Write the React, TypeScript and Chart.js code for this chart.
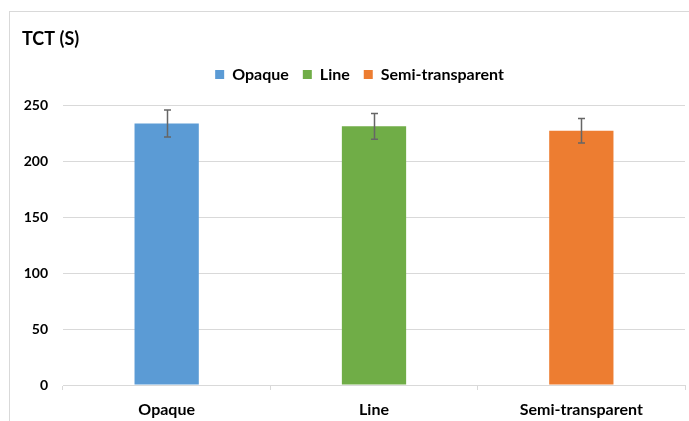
import React, { useEffect, useRef } from "react";
import { Chart, registerables } from "chart.js";

Chart.register(...registerables);

const categories = ["Opaque", "Line", "Semi-transparent"];
const tctValues = [234, 231.5, 227.5];
const tctErrors = [12, 11.5, 11];
const barColors = ["#5B9BD5", "#70AD47", "#ED7D31"];
const yTicks = [0, 50, 100, 150, 200, 250];

const FONT = "Lato";

const framePlugin = {
  id: "frame",
  beforeDraw(chart: any) {
    const ctx = chart.ctx;
    ctx.save();
    ctx.fillStyle = "#ffffff";
    ctx.fillRect(0, 0, chart.width, chart.height);
    ctx.strokeStyle = "#D9D9D9";
    ctx.lineWidth = 1;
    ctx.strokeRect(9.5, 11.5, 2000, 2000);
    ctx.restore();
  },
};

const legendSpacer = {
  id: "legendSpacer",
  beforeInit(chart: any) {
    const legend = chart.legend;
    if (!legend) return;
    const orig = legend.fit.bind(legend);
    legend.fit = function () {
      orig();
      this.height += 13;
    };
  },
  afterLayout(chart: any) {
    const legend = chart.legend;
    if (!legend) return;
    legend.left += 6;
    legend.right += 6;
  },
};

const errorBarPlugin = {
  id: "errorBars",
  afterDatasetsDraw(chart: any) {
    const ctx = chart.ctx;
    const meta = chart.getDatasetMeta(0);
    const yScale = chart.scales.y;
    ctx.save();
    ctx.strokeStyle = "#666666";
    ctx.lineWidth = 1.5;
    meta.data.forEach((bar: any, i: number) => {
      const x = Math.round(bar.x) + 0.5;
      const top = yScale.getPixelForValue(tctValues[i] + tctErrors[i]);
      const bot = yScale.getPixelForValue(tctValues[i] - tctErrors[i]);
      ctx.beginPath();
      ctx.moveTo(x, top);
      ctx.lineTo(x, bot);
      ctx.moveTo(x - 3.5, top);
      ctx.lineTo(x + 3.5, top);
      ctx.moveTo(x - 3.5, bot);
      ctx.lineTo(x + 3.5, bot);
      ctx.stroke();
    });
    ctx.restore();
  },
};

export default function App() {
  const ref = useRef<HTMLCanvasElement>(null);
  useEffect(() => {
    document.body.style.margin = "0";
    const chart = new Chart(ref.current as HTMLCanvasElement, {
      type: "bar",
      data: {
        labels: categories,
        datasets: [
          {
            label: "TCT (S)",
            data: tctValues,
            backgroundColor: barColors,
            borderWidth: 0,
            categoryPercentage: 1,
            barPercentage: 0.31,
          },
        ],
      },
      options: {
        animation: false,
        responsive: false,
        layout: { padding: { left: 22, right: 4, top: 28, bottom: 0 } },
        plugins: {
          title: {
            display: true,
            text: "TCT (S)",
            align: "start",
            color: "#000000",
            font: { family: FONT, size: 18, weight: "bold" },
            padding: { top: 0, bottom: 3 },
          },
          legend: {
            display: true,
            labels: {
              boxWidth: 9,
              boxHeight: 9,
              padding: 14,
              color: "#000000",
              font: { family: FONT, size: 16, weight: "bold" },
              generateLabels: () =>
                categories.map((c, i) => ({
                  text: c,
                  fillStyle: barColors[i],
                  strokeStyle: barColors[i],
                  lineWidth: 0,
                  hidden: false,
                  index: i,
                  datasetIndex: 0,
                })),
            },
          },
          tooltip: { enabled: false },
        },
        scales: {
          x: {
            afterFit: (s: any) => {
              s.height = 36;
            },
            grid: {
              display: true,
              offset: true,
              drawOnChartArea: false,
              drawTicks: true,
              tickLength: 5,
              color: "#D9D9D9",
            },
            border: { display: true, color: "#D9D9D9" },
            ticks: {
              color: "#000000",
              padding: 10,
              font: { family: FONT, size: 16, weight: "bold" },
            },
          },
          y: {
            min: 0,
            max: 250,
            afterFit: (s: any) => {
              s.width = 41;
            },
            afterBuildTicks: (scale: any) => {
              scale.ticks = yTicks.map((v) => ({ value: v }));
            },
            grid: { color: "#D9D9D9", drawTicks: false, lineWidth: 1 },
            border: { display: false },
            ticks: {
              color: "#000000",
              padding: 15,
              font: { family: FONT, size: 14, weight: "bold" },
            },
          },
        },
      },
      plugins: [framePlugin, legendSpacer, errorBarPlugin],
    } as any);
    return () => chart.destroy();
  }, []);
  return <canvas ref={ref} width={689} height={421} style={{ display: "block" }} />;
}
